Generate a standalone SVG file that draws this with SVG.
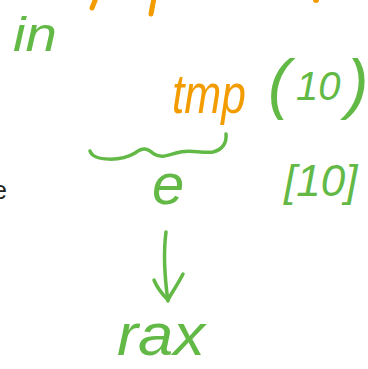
<svg xmlns="http://www.w3.org/2000/svg" width="368" height="369" viewBox="0 0 368 369">
<style>
.g{fill:#62b946;font-family:"Liberation Sans",sans-serif;font-style:italic}
.o{fill:#f39c00;font-family:"Liberation Sans",sans-serif;font-style:italic}
.gs{fill:none;stroke:#62b946;stroke-width:3.5;stroke-linecap:round;stroke-linejoin:round}
.os{fill:none;stroke:#f39c00;stroke-width:5;stroke-linecap:round}
.k{fill:#222;font-family:"Liberation Sans",sans-serif}
</style>
<rect width="368" height="369" fill="#fff"/>
<g id="top-strokes">
<path class="os" d="M96 -2 L92 8"/>
<path class="os" d="M154 -2 L151 14"/>
<circle cx="316" cy="0" r="3" fill="#f39c00"/>
</g>
<g id="in"><text class="g" x="13" y="51" font-size="48" textLength="44" lengthAdjust="spacingAndGlyphs">in</text></g>
<g id="tmp"><text class="o" x="172" y="113" font-size="56" textLength="74" lengthAdjust="spacingAndGlyphs">tmp</text></g>
<g id="paren10"><text class="g" x="268" y="106" font-size="66">(<tspan font-size="40" dy="-6" dx="6">10</tspan><tspan dy="6" dx="6">)</tspan></text></g>
<g id="e-left"><text class="k" x="-7" y="199" font-size="25">e</text></g>
<g id="e"><text class="g" x="152" y="204" font-size="58">e</text></g>
<g id="br10"><text class="g" x="284" y="196" font-size="44">[10]</text></g>
<g id="rax"><text class="g" x="117" y="355" font-size="60" textLength="88" lengthAdjust="spacingAndGlyphs">rax</text></g>
<g id="connectors">
<path class="gs" d="M90 151 C94 162 122 161 135 153 C143 147 147 148 154 154 C161 158 166 156 176 153 C190 148 200 154 213 152 C222 150 227 143 226 134"/>
<path class="gs" d="M166 232 C163 255 165 280 168 301"/>
<path class="gs" d="M154 280 C158 290 164 296 168 300 C172 292 178 284 183 274"/>
</g>
</svg>
